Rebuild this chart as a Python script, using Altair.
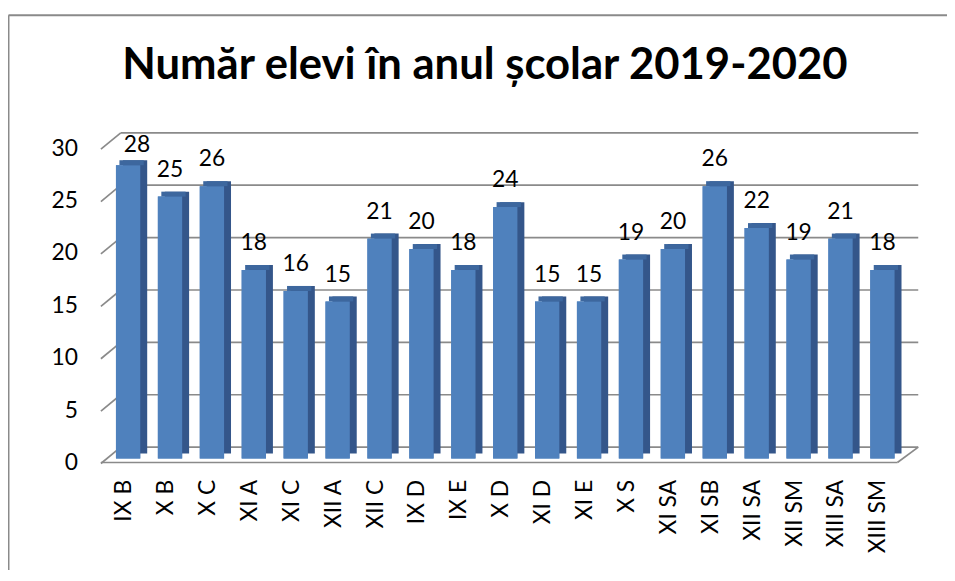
import altair as alt
import pandas as pd

# ---- data ----
classes = ["IX B", "X B", "X C", "XI A", "XI C", "XII A", "XII C", "IX D", "IX E",
           "X D", "XI D", "XI E", "X S", "XI SA", "XI SB", "XII SA", "XII SM",
           "XIII SA", "XIII SM"]
students = [28, 25, 26, 18, 16, 15, 21, 20, 18, 24, 15, 15, 19, 20, 26, 22, 19, 21, 18]
y_ticks = [0, 5, 10, 15, 20, 25, 30]
title_text = "Număr elevi în anul școlar 2019-2020"

df = pd.DataFrame({"clasa": classes, "elevi": students})
grid_df = pd.DataFrame({"elevi": y_ticks})
zero_df = pd.DataFrame({"elevi": [0]})
one_df = pd.DataFrame({"t": [title_text]})

W, H = 803, 317
FONT = "Lato"
FRONT = "#4F81BD"
SIDE = "#34568a"
TOP = "#3d679e"
GRID = "#8a8a8a"
BORDER = "#8a8a8a"

x_scale = alt.Scale(domain=classes, paddingInner=0.42, paddingOuter=0.21)
y_scale = alt.Scale(domain=[0, 30], nice=False)

x_axis = alt.Axis(title=None, labelAngle=270, labelAlign="right", labelBaseline="middle",
                  labelPadding=21, labelOffset=-4)
y_axis = alt.Axis(title=None, values=y_ticks, labelPadding=30, labelOffset=4, labelFlush=False)

X = alt.X("clasa:N", scale=x_scale, sort=None, axis=x_axis)
Y = alt.Y("elevi:Q", scale=y_scale, axis=y_axis)

# back-wall gridlines
grid = alt.Chart(grid_df).mark_rule(color=GRID, strokeWidth=1.7, yOffset=-11.5).encode(
    y=Y, x=alt.value(13.7), x2=alt.value(818))

# perspective tick lines on the left wall
diag = alt.Chart(grid_df).mark_rule(color=GRID, strokeWidth=1.7, yOffset=5, y2Offset=-11.5).encode(
    y=Y, y2="elevi:Q", x=alt.value(-6.3), x2=alt.value(13.7))

# floor front edge and right edge
floor_front = alt.Chart(zero_df).mark_rule(color=GRID, strokeWidth=1.7, yOffset=4).encode(
    y=Y, x=alt.value(-6.3), x2=alt.value(797))
floor_right = alt.Chart(zero_df).mark_rule(color=GRID, strokeWidth=1.7, yOffset=4, y2Offset=-11.5).encode(
    y=Y, y2="elevi:Q", x=alt.value(797), x2=alt.value(818))

# 3D bars: side, top, front
side = alt.Chart(df).mark_bar(color=SIDE, xOffset=7, yOffset=-5, y2Offset=-5).encode(
    x=X, y=Y, y2=alt.datum(0))
top = alt.Chart(df).mark_bar(color=TOP, xOffset=3.5, yOffset=-5, y2Offset=0).encode(
    x=X, y=Y, y2="elevi:Q")
front = alt.Chart(df).mark_bar(color=FRONT).encode(x=X, y=Y)

# value labels (the tallest one is nudged by the chart like in the original)
labels = alt.Chart(df).transform_filter("datum.elevi < 27").mark_text(
    font=FONT, fontSize=23, color="#000000", baseline="alphabetic", dy=-20).encode(
    x=X, y=Y, text="elevi:Q")
labels_top = alt.Chart(df).transform_filter("datum.elevi >= 27").mark_text(
    font=FONT, fontSize=23, color="#000000", baseline="alphabetic", dy=-13, dx=9).encode(
    x=X, y=Y, text="elevi:Q")

title = alt.Chart(one_df).mark_text(font=FONT, fontSize=44, fontWeight="bold", color="#000000",
                                    align="center", baseline="alphabetic").encode(
    x=alt.value(381), y=alt.value(-66), text="t:N")

# chart frame (top and left border)
frame_top = alt.Chart(zero_df).mark_rule(color=BORDER, strokeWidth=2).encode(
    y=alt.value(-130), x=alt.value(-99.5), x2=alt.value(860))
frame_left = alt.Chart(zero_df).mark_rule(color=BORDER, strokeWidth=2).encode(
    x=alt.value(-99.5), y=alt.value(-130), y2=alt.value(430))

chart = alt.layer(
    front, frame_top, frame_left, grid, diag, floor_front, floor_right,
    side, top, front, labels, labels_top, title
).properties(
    width=W, height=H,
    autosize=alt.AutoSizeParams(type="none"),
    padding={"left": 100, "top": 135, "right": 44, "bottom": 110},
    background="white",
).configure_view(stroke=None).configure_axis(
    labelFont=FONT, labelFontSize=23, labelColor="#000000",
    grid=False, domain=False, ticks=False
)

chart.save("out.html", embed_options={"renderer": "svg", "actions": False})
